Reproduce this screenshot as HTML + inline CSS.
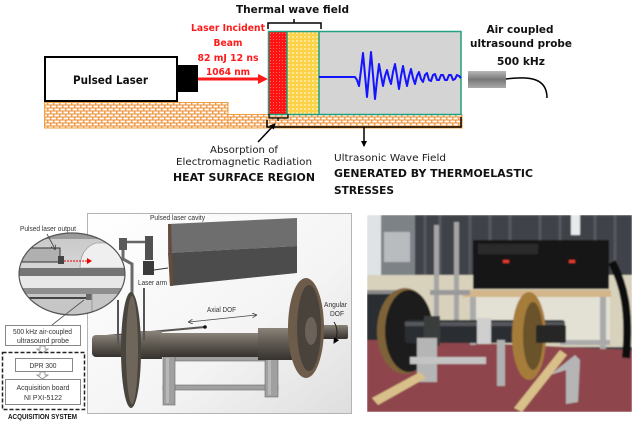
<!DOCTYPE html>
<html><head><meta charset="utf-8">
<style>
html,body{margin:0;padding:0;background:#fff;}
svg{display:block;}
.v{font-family:"DejaVu Sans","Liberation Sans",sans-serif;}
.s{font-family:"Liberation Sans","DejaVu Sans",sans-serif;}
</style></head><body>
<svg width="642" height="428" viewBox="0 0 642 428" xmlns="http://www.w3.org/2000/svg">
<defs>
 <pattern id="brick" width="6" height="6" patternUnits="userSpaceOnUse">
  <rect width="6" height="6" fill="#ee9c4c"/>
  <rect x="0.5" y="0.6" width="4.4" height="1.8" fill="#fff"/>
  <rect x="3.5" y="3.6" width="2.5" height="1.8" fill="#fff"/>
  <rect x="0" y="3.6" width="1.9" height="1.8" fill="#fff"/>
 </pattern>
 <pattern id="redp" width="3" height="3" patternUnits="userSpaceOnUse">
  <rect width="3" height="3" fill="#ff1212"/>
  <rect width="1" height="1" fill="#ff6a6a"/>
 </pattern>
 <pattern id="yelp" width="4" height="4" patternUnits="userSpaceOnUse">
  <rect width="4" height="4" fill="#fcd24a"/>
  <rect width="2" height="2" fill="#fde792"/>
 </pattern>
 <linearGradient id="probe" x1="0" y1="0" x2="0" y2="1">
  <stop offset="0" stop-color="#b8b8b8"/><stop offset="0.5" stop-color="#777"/><stop offset="1" stop-color="#aaa"/>
 </linearGradient>
 <linearGradient id="cadbg" x1="0" y1="0" x2="1" y2="1">
  <stop offset="0" stop-color="#ffffff"/><stop offset="0.6" stop-color="#f4f4f4"/><stop offset="1" stop-color="#dedede"/>
 </linearGradient>
 <linearGradient id="shaft" x1="0" y1="0" x2="0" y2="1">
  <stop offset="0" stop-color="#8a837a"/><stop offset="0.35" stop-color="#6a635b"/><stop offset="1" stop-color="#35312d"/>
 </linearGradient>
 <linearGradient id="mag" x1="0" y1="0" x2="0" y2="1">
  <stop offset="0" stop-color="#c8c8c8"/><stop offset="1" stop-color="#e8e8e8"/>
 </linearGradient>
 <clipPath id="magc"><ellipse cx="72" cy="274" rx="53" ry="41"/></clipPath>
 <clipPath id="photoc"><rect x="367" y="215" width="265" height="197"/></clipPath>
 <filter id="blur" x="0" y="0" width="1" height="1"><feGaussianBlur stdDeviation="0.9"/></filter>
 <marker id="ah" markerWidth="6" markerHeight="6" refX="5" refY="3" orient="auto" markerUnits="userSpaceOnUse">
  <path d="M0,0 L6,3 L0,6 z" fill="#000"/>
 </marker>
 <marker id="ahs" markerWidth="5" markerHeight="5" refX="4" refY="2.5" orient="auto" markerUnits="userSpaceOnUse">
  <path d="M0,0 L5,2.5 L0,5" fill="none" stroke="#444" stroke-width="0.8"/>
 </marker>
 <marker id="ahs2" markerWidth="5" markerHeight="5" refX="1" refY="2.5" orient="auto" markerUnits="userSpaceOnUse">
  <path d="M5,0 L0,2.5 L5,5" fill="none" stroke="#444" stroke-width="0.8"/>
 </marker>
</defs>

<!-- ============ TOP DIAGRAM ============ -->
<text class="v" x="236" y="13" font-size="11" font-weight="bold" fill="#111" textLength="113" lengthAdjust="spacingAndGlyphs">Thermal wave field</text>
<path d="M268,29 V23 H321 V29 M294,23 V19" fill="none" stroke="#000" stroke-width="1.5"/>

<g class="v" font-size="10" font-weight="bold" fill="#ff1a1a" text-anchor="middle">
 <text x="228" y="31" textLength="74" lengthAdjust="spacingAndGlyphs">Laser Incident</text>
 <text x="228" y="46" textLength="29" lengthAdjust="spacingAndGlyphs">Beam</text>
 <text x="228" y="61" textLength="61" lengthAdjust="spacingAndGlyphs">82 mJ 12 ns</text>
 <text x="228" y="75" textLength="44" lengthAdjust="spacingAndGlyphs">1064 nm</text>
</g>

<!-- brick ground -->
<rect x="44.5" y="102.5" width="183.5" height="25.5" fill="url(#brick)" stroke="#f0a040" stroke-width="1"/>
<rect x="228" y="114.5" width="234" height="13.5" fill="url(#brick)" stroke="#f0a040" stroke-width="1"/>

<!-- pulsed laser -->
<rect x="45" y="57" width="132" height="44" fill="#fff" stroke="#000" stroke-width="2"/>
<rect x="177" y="65" width="21" height="27" fill="#000"/>
<text class="v" x="73" y="84" font-size="11.5" font-weight="bold" fill="#111" textLength="75" lengthAdjust="spacingAndGlyphs">Pulsed Laser</text>
<line x1="198" y1="79" x2="259" y2="79" stroke="#ff1a1a" stroke-width="3"/>
<path d="M258,74 L268,79 L258,84 z" fill="#ff1a1a"/>

<!-- thermal region -->
<rect x="268" y="31" width="19" height="84" fill="url(#redp)"/>
<rect x="287" y="31" width="32" height="84" fill="url(#yelp)"/>
<rect x="319" y="31" width="142" height="84" fill="#d4d4d4"/>
<rect x="268.5" y="31.5" width="192.5" height="83" fill="none" stroke="#22a07f" stroke-width="1.5"/>
<line x1="287" y1="31" x2="287" y2="115" stroke="#22a07f" stroke-width="1.5"/>
<line x1="319" y1="31" x2="319" y2="115" stroke="#22a07f" stroke-width="1.5"/>
<polyline fill="none" stroke="#1414ff" stroke-width="2" stroke-linejoin="round" points="319,77 355,77 357,80 359,86 361,70 363,53 365,75 367,97 369,75 371,52 373,75 375,99 377,80 379,64 381,75 383,86 385,76 387,70 389,78 391,84 393,72 395,64 397,76 399,89 401,76 403,66 405,77 407,86 409,76 411,69 413,78 415,84 417,76 419,72 421,79 423,82 425,75 427,73 429,80 431,81 433,75 435,74 437,80 439,80 441,75 443,75 445,80 447,80 449,75 451,75 453,80 455,79 457,75 459,76 461,78"/>

<!-- brackets below -->
<path d="M269,114 V118 H288 V114 M278,118 V121" fill="none" stroke="#000" stroke-width="1.2"/>
<path d="M267,120 V127 H461 V117" fill="none" stroke="#000" stroke-width="1.5"/>
<line x1="364" y1="127" x2="364" y2="146" stroke="#000" stroke-width="1.5" marker-end="url(#ah)"/>
<line x1="258" y1="142" x2="275" y2="124" stroke="#000" stroke-width="1.5" marker-end="url(#ah)"/>

<text class="v" x="244" y="153" font-size="10" fill="#1a1a1a" text-anchor="middle" textLength="68" lengthAdjust="spacingAndGlyphs">Absorption of</text>
<text class="v" x="244" y="165" font-size="10" fill="#1a1a1a" text-anchor="middle" textLength="136" lengthAdjust="spacingAndGlyphs">Electromagnetic Radiation</text>
<text class="v" x="173" y="181" font-size="11" font-weight="bold" fill="#111" textLength="142" lengthAdjust="spacingAndGlyphs">HEAT SURFACE REGION</text>

<text class="v" x="334" y="161" font-size="10" fill="#1a1a1a" textLength="112" lengthAdjust="spacingAndGlyphs">Ultrasonic Wave Field</text>
<text class="v" x="334" y="177" font-size="11" font-weight="bold" fill="#111" textLength="199" lengthAdjust="spacingAndGlyphs">GENERATED BY THERMOELASTIC</text>
<text class="v" x="334" y="194" font-size="11" font-weight="bold" fill="#111" textLength="60" lengthAdjust="spacingAndGlyphs">STRESSES</text>

<!-- probe -->
<g class="v" font-size="10.5" font-weight="bold" fill="#111" text-anchor="middle">
 <text x="520" y="33" textLength="67" lengthAdjust="spacingAndGlyphs">Air coupled</text>
 <text x="521" y="47" textLength="102" lengthAdjust="spacingAndGlyphs">ultrasound probe</text>
 <text x="521" y="65" textLength="48" lengthAdjust="spacingAndGlyphs">500 kHz</text>
</g>
<rect x="468" y="71" width="38" height="17" fill="url(#probe)"/>
<path d="M506,79 C530,76 547,78 547,98" fill="none" stroke="#000" stroke-width="1.5"/>

<!-- ============ CAD PANEL ============ -->
<rect x="87.5" y="213.5" width="264" height="200" fill="url(#cadbg)" stroke="#b4b4b4" stroke-width="1"/>
<text class="s" x="150" y="220" font-size="7" fill="#333" textLength="55" lengthAdjust="spacingAndGlyphs">Pulsed laser cavity</text>
<polygon points="168,224 297,218 297,246 168,253" fill="#6e6e6e"/>
<polygon points="168,253 297,246 297,273 170,286" fill="#4c4c4c"/>
<polygon points="168,224 171,224 173,286 170,286" fill="#6a4a3a"/>
<rect x="119" y="238" width="8" height="12" fill="#5a5a5a"/>
<line x1="127" y1="242" x2="146" y2="242" stroke="#666" stroke-width="2.5"/>
<rect x="145" y="236" width="8" height="24" fill="#505050"/>
<rect x="143" y="261" width="11" height="14" fill="#3a3a3a"/>
<line x1="154" y1="270" x2="168" y2="268" stroke="#333" stroke-width="1"/>
<path d="M123,250 V259 L132,264 V300" fill="none" stroke="#6a6a6a" stroke-width="3"/>
<text class="s" x="138" y="285" font-size="7" fill="#333" textLength="29" lengthAdjust="spacingAndGlyphs">Laser arm</text>

<g fill="#a0a0a0" stroke="#6a6a6a" stroke-width="0.6">
 <rect x="175" y="356" width="92" height="5"/>
 <rect x="163" y="385" width="115" height="5"/>
 <rect x="163" y="355" width="12" height="50"/>
 <rect x="265" y="350" width="13" height="47"/>
</g>
<g fill="#b8b8b8"><rect x="166" y="358" width="3" height="45"/><rect x="268" y="352" width="3" height="43"/></g>

<line x1="95" y1="337" x2="205" y2="327" stroke="#5a5550" stroke-width="2"/>
<circle cx="205" cy="327" r="1.8" fill="#111"/>
<rect x="92" y="335" width="34" height="22" rx="4" fill="url(#shaft)"/>
<rect x="138" y="331" width="24" height="28" fill="url(#shaft)"/>
<rect x="160" y="333" width="132" height="24" fill="url(#shaft)"/>
<rect x="258" y="328" width="34" height="32" fill="url(#shaft)"/>
<rect x="316" y="325" width="32" height="14" rx="2" fill="url(#shaft)"/>
<ellipse cx="131" cy="350" rx="10" ry="58" fill="#4a443e"/>
<ellipse cx="132" cy="350" rx="6" ry="54" fill="#6e655b"/>
<line x1="118" y1="300" x2="118" y2="345" stroke="#555" stroke-width="2"/>
<line x1="144" y1="288" x2="144" y2="340" stroke="#555" stroke-width="2"/>
<ellipse cx="306" cy="328" rx="18" ry="50" fill="#6e5c4a"/>
<ellipse cx="309" cy="328" rx="12" ry="43" fill="#4a433c"/>
<ellipse cx="311" cy="331" rx="6" ry="14" fill="#6b635a"/>
<line x1="189" y1="322" x2="256" y2="315" stroke="#444" stroke-width="0.8" marker-end="url(#ahs)" marker-start="url(#ahs2)"/>
<text class="s" x="207" y="312" font-size="7" fill="#333" textLength="29" lengthAdjust="spacingAndGlyphs">Axial DOF</text>
<text class="s" x="324" y="307" font-size="7" fill="#333" textLength="23" lengthAdjust="spacingAndGlyphs">Angular</text>
<text class="s" x="330" y="316" font-size="7" fill="#333" textLength="14" lengthAdjust="spacingAndGlyphs">DOF</text>
<path d="M334,322 C338,328 338,336 334,343" fill="none" stroke="#222" stroke-width="1" marker-end="url(#ah)"/>

<g clip-path="url(#magc)">
 <rect x="19" y="233" width="107" height="82" fill="url(#mag)"/>
 <rect x="19" y="233" width="107" height="6" fill="#9a9a9a"/>
 <path d="M80,268 C80,255 86,246 96,243 H126 V268 z" fill="#efefef" stroke="#888" stroke-width="0.6"/>
 <path d="M22,248 H60 V262 H22" fill="#b0b0b0" stroke="#333" stroke-width="1"/>
 <rect x="58" y="256" width="6" height="8" fill="#444"/>
 <rect x="19" y="268" width="107" height="8" fill="#747474"/>
 <rect x="19" y="276" width="107" height="12" fill="#e8e8e8"/>
 <rect x="19" y="288" width="107" height="6" fill="#8e8e8e"/>
 <rect x="19" y="294" width="107" height="21" fill="#c6c6c6"/>
 <line x1="25" y1="298" x2="88" y2="298" stroke="#444" stroke-width="2"/>
 <rect x="86" y="294" width="6" height="6" fill="#666"/>
 <path d="M92,294 V315" stroke="#999" stroke-width="1"/>
</g>
<ellipse cx="72" cy="274" rx="53" ry="41" fill="none" stroke="#555" stroke-width="1.2"/>
<line x1="64" y1="261" x2="88" y2="261" stroke="#e00" stroke-width="1" stroke-dasharray="2,1"/>
<path d="M87,258 L92,261 L87,264 z" fill="#e00"/>
<text class="s" x="20" y="231" font-size="7" fill="#333" textLength="56" lengthAdjust="spacingAndGlyphs">Pulsed laser output</text>
<line x1="47" y1="234" x2="55" y2="249" stroke="#444" stroke-width="0.8" marker-end="url(#ahs)"/>
<line x1="84" y1="300" x2="52" y2="325" stroke="#555" stroke-width="0.8"/>

<rect x="5.5" y="325.5" width="75" height="20" fill="#fff" stroke="#888" stroke-width="1"/>
<text class="s" x="42.5" y="334" font-size="7" fill="#333" text-anchor="middle" textLength="59" lengthAdjust="spacingAndGlyphs">500 kHz air-coupled</text>
<text class="s" x="43" y="343" font-size="7" fill="#333" text-anchor="middle" textLength="52" lengthAdjust="spacingAndGlyphs">ultrasound probe</text>
<polygon points="40,346 45,346 45,349 48,349 42.5,353 37,349 40,349" fill="#fff" stroke="#888" stroke-width="0.8"/>
<rect x="2.5" y="352.5" width="82" height="57" fill="none" stroke="#222" stroke-width="1.5" stroke-dasharray="4,2"/>
<rect x="15.5" y="358.5" width="57" height="13" fill="#fff" stroke="#888" stroke-width="1"/>
<text class="s" x="43" y="368" font-size="7" fill="#333" text-anchor="middle" textLength="27" lengthAdjust="spacingAndGlyphs">DPR 300</text>
<polygon points="40,372 45,372 45,375 48,375 42.5,379 37,375 40,375" fill="#fff" stroke="#888" stroke-width="0.8"/>
<rect x="5.5" y="379.5" width="75" height="25" fill="#fff" stroke="#888" stroke-width="1"/>
<text class="s" x="43" y="390" font-size="7" fill="#333" text-anchor="middle" textLength="53" lengthAdjust="spacingAndGlyphs">Acquisition board</text>
<text class="s" x="43" y="400" font-size="7" fill="#333" text-anchor="middle" textLength="38" lengthAdjust="spacingAndGlyphs">NI PXI-5122</text>
<text class="s" x="8" y="419" font-size="7" font-weight="bold" fill="#111" textLength="69" lengthAdjust="spacingAndGlyphs">ACQUISITION SYSTEM</text>

<!-- ============ PHOTO ============ -->
<g clip-path="url(#photoc)">
 <g filter="url(#blur)">
  <rect x="367" y="215" width="265" height="197" fill="#404348"/>
  <g stroke="#55595e" stroke-width="3">
   <line x1="425" y1="215" x2="425" y2="275"/><line x1="440" y1="215" x2="440" y2="275"/>
   <line x1="470" y1="215" x2="470" y2="275"/><line x1="490" y1="215" x2="490" y2="275"/>
   <line x1="510" y1="215" x2="510" y2="240"/><line x1="540" y1="215" x2="540" y2="240"/>
   <line x1="560" y1="215" x2="560" y2="240"/><line x1="595" y1="215" x2="595" y2="240"/>
   <line x1="615" y1="215" x2="615" y2="275"/>
  </g>
  <rect x="367" y="215" width="14" height="70" fill="#dfe3e6"/>
  <rect x="381" y="215" width="34" height="62" fill="#7d8287"/>
  <rect x="384" y="232" width="26" height="30" fill="#b9bcbf"/>
  <rect x="571" y="215" width="9" height="20" fill="#e8eaee"/>
  <rect x="367" y="275" width="265" height="72" fill="#d8d1bc"/>
  <rect x="470" y="297" width="140" height="45" fill="#e3e0d4"/>
  <polygon points="367,338 632,350 632,412 367,412" fill="#8e454b"/>
  <rect x="367" y="290" width="42" height="50" fill="#2c2e32"/>
  <rect x="367" y="290" width="45" height="4" fill="#8a8a8a"/>
  <rect x="473" y="240" width="136" height="49" fill="#141414"/>
  <rect x="478" y="244" width="60" height="10" fill="#2a2a2a"/>
  <rect x="503" y="260" width="6" height="3" fill="#e53b2f"/>
  <rect x="569" y="260" width="6" height="3" fill="#e53b2f"/>
  <rect x="463" y="290" width="148" height="7" fill="#d3b68a"/>
  <g fill="#aaa">
   <rect x="470" y="297" width="6" height="48"/><rect x="600" y="297" width="6" height="52"/>
   <rect x="560" y="340" width="50" height="5"/>
  </g>
  <rect x="434" y="225" width="5" height="105" fill="#a4a4a4"/>
  <rect x="454" y="222" width="5" height="108" fill="#a4a4a4"/>
  <rect x="430" y="290" width="40" height="5" fill="#999"/>
  <path d="M612,262 C624,285 630,310 626,358" fill="none" stroke="#111" stroke-width="8"/>
  <ellipse cx="405" cy="331" rx="28" ry="43" fill="#7e6338"/>
  <ellipse cx="409" cy="331" rx="24" ry="41" fill="#1c1c1c"/>
  <rect x="405" y="320" width="160" height="23" rx="3" fill="#2c2e30"/>
  <rect x="405" y="322" width="160" height="4" fill="#55585b"/>
  <rect x="424" y="316" width="16" height="30" fill="#3a3c3e"/>
  <rect x="477" y="318" width="14" height="26" fill="#cfcfcf"/>
  <ellipse cx="529" cy="336" rx="17" ry="44" fill="#a67c3a"/>
  <ellipse cx="533" cy="336" rx="10" ry="34" fill="#6a522c"/>
  <rect x="536" y="325" width="30" height="18" rx="2" fill="#262626"/>
  <rect x="417" y="338" width="20" height="44" fill="#b5b5b5"/>
  <rect x="410" y="357" width="76" height="7" fill="#c4c4c4"/>
  <rect x="497" y="340" width="8" height="46" fill="#b0b0b0"/>
  <polygon points="550,375 575,355 580,360 578,402 566,404 566,370" fill="#b5b5b5"/>
  <polygon points="372,398 420,372 426,378 378,405" fill="#d9c08a"/>
  <polygon points="514,408 560,350 567,355 522,412" fill="#d9c08a"/>
 </g>
</g>
</svg>
</body></html>
